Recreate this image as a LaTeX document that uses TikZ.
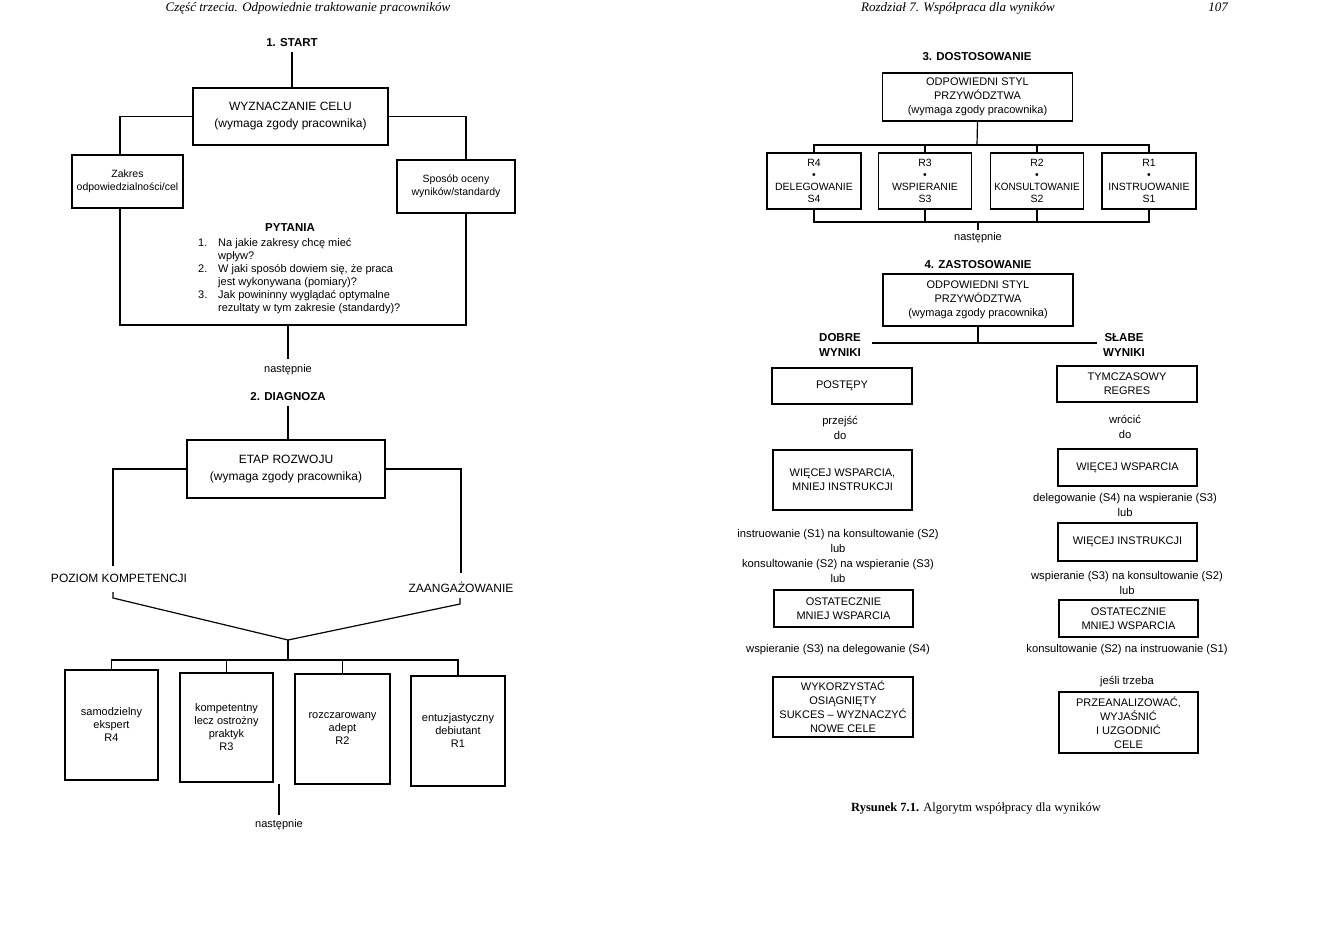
\documentclass[tikz,border=0pt]{standalone}
\usepackage{fontspec}
\usepackage{graphicx}
\setmainfont{Liberation Sans}
\newfontfamily\capserif{Liberation Serif}
\newcommand\fbig{\fontsize{12}{17}\selectfont}
\newcommand\fsm{\fontsize{10.5}{13}\selectfont}
\newcommand\flist{\fontsize{11}{13}\selectfont}
\newcommand\fnast{\fontsize{11}{13}\selectfont}
\newcommand\frl{\fontsize{11}{13}\selectfont}
\newcommand\frb{\fontsize{11}{14}\selectfont}
\newcommand\frs{\fontsize{11.2}{15}\selectfont}
\newcommand\frr{\fontsize{10.5}{11.8}\selectfont}
\newcommand\fttl{\fontsize{11.5}{15}\selectfont\bfseries}
\newcommand\flbl{\fontsize{12}{14}\selectfont}
\newcommand\fhead{\capserif\itshape\fontsize{13}{16}\selectfont}
\newcommand\fcap{\capserif\fontsize{12.5}{15}\selectfont}
\begin{document}
\begin{tikzpicture}[x=1pt,y=-1pt,
  bx/.style={draw, line width=1.2pt, inner sep=0pt, align=center},
  tx/.style={inner sep=0pt, align=center},
  ttl/.style={inner sep=0pt, font=\fttl},
  ln/.style={line width=1.2pt}]
\useasboundingbox (0,0) rectangle (1331,924);
\fill[white] (0,0) rectangle (1331,924);
\node[tx,font=\fhead,anchor=base] (hdl) at (308,11) {Część trzecia. Odpowiednie traktowanie pracowników};
\node[tx,font=\fhead,anchor=base] (hdr) at (958,11) {Rozdział 7. Współpraca dla wyników};
\node[tx,font=\fhead,anchor=base] (pg) at (1218,11) {107};

% ---------------- left page ----------------
\node[ttl] (start) at (292,43) {1. START};
\node[bx,font=\fbig,minimum width=195,minimum height=57] (cel) at (290.5,116.5) {WYZNACZANIE CELU\\(wymaga zgody pracownika)};
\draw[ln,shorten <=5pt] (start.south) -- (start.south |- cel.north);
\node[bx,font=\fsm,minimum width=111,minimum height=53] (zakres) at (127.5,181.5) {Zakres\\odpowiedzialności/cel};
\node[bx,font=\fsm,minimum width=118,minimum height=53] (sposob) at (456,186.5) {Sposób oceny\\wyników/standardy};
\coordinate (pyBL) at (120,325);
\coordinate (pyBR) at (466,325);
\coordinate (pyB) at (288,325);
\draw[ln] (cel.west) -| (pyBL |- zakres.north);
\draw[ln] (cel.east) -| (pyBR |- sposob.north);
\draw[ln] (pyBL |- zakres.south) -- (pyBL) -- (pyBR) -- (pyBR |- sposob.south);
\node[ttl] (pyt) at (290,228) {PYTANIA};
\node[tx,font=\flist,anchor=north west] (lista) at (198,237) {\begin{tabular}{@{}p{20pt}@{}l@{}}1. & Na jakie zakresy chcę mieć\\ & wpływ?\\2. & W jaki sposób dowiem się, że praca\\ & jest wykonywana (pomiary)?\\3. & Jak powininny wyglądać optymalne\\ & rezultaty w tym zakresie (standardy)?\end{tabular}};
\node[tx,font=\fnast] (nast1) at (288,370) {następnie};
\draw[ln,shorten >=6pt] (pyB) -- (nast1.north);
\node[ttl] (diag) at (288,397) {2. DIAGNOZA};
\node[bx,font=\fbig,minimum width=198,minimum height=58] (etap) at (286,469) {ETAP ROZWOJU\\(wymaga zgody pracownika)};
\draw[ln,shorten <=5pt] (diag.south) -- (diag.south |- etap.north);
\node[tx,font=\flbl] (poziom) at (119,578) {POZIOM KOMPETENCJI};
\node[tx,font=\flbl] (zaang) at (461,587) {ZAANGAŻOWANIE};
\coordinate (pkA) at (113,566);
\coordinate (pkB) at (113,592);
\coordinate (pkC) at (113,598);
\coordinate (zaA) at (461,573);
\coordinate (zaB) at (460,598);
\coordinate (zaC) at (460,604);
\coordinate (apex) at (288,640);
\coordinate (bus) at (288,660);
\draw[ln] (etap.west) -| (pkA);
\draw[ln] (etap.east) -| (zaA);
\draw[ln] (pkB) -- (pkC) -- (apex) -- (zaC) -- (zaB);
\draw[ln] (apex) -- (bus);
\node[bx,font=\frl,minimum width=93,minimum height=110] (r4) at (111.5,725) {samodzielny\\ekspert\\R4};
\node[bx,font=\frl,minimum width=93,minimum height=109] (r3) at (226.5,727.5) {kompetentny\\lecz ostrożny\\praktyk\\R3};
\node[bx,font=\frl,minimum width=95,minimum height=110] (r2) at (342.5,729) {rozczarowany\\adept\\R2};
\node[bx,font=\frl,minimum width=94,minimum height=110] (r1) at (458,731) {entuzjastyczny\\debiutant\\R1};
\draw[ln] (r4.north) |- (bus) -| (r1.north);
\draw[ln] (r3.north) -- (r3.north |- bus);
\draw[ln] (r2.north) -- (r2.north |- bus);
\coordinate (nx) at (279,784);
\node[tx,font=\fnast] (nast2) at (279,825) {następnie};
\draw[ln,shorten >=5pt] (nx) -- (nast2.north);

% ---------------- right page ----------------
\node[ttl] (t3) at (977,57) {3. DOSTOSOWANIE};
\node[bx,font=\frb,minimum width=190,minimum height=48] (sty1) at (977.5,97) {ODPOWIEDNI STYL\\PRZYWÓDZTWA\\(wymaga zgody pracownika)};
\coordinate (b3top) at (977,145);
\coordinate (b3bot) at (978,222);
\node[bx,font=\frr,minimum width=94,minimum height=56] (s4) at (814,181) {R4\\•\\DELEGOWANIE\\S4};
\node[bx,font=\frr,minimum width=93,minimum height=56] (s3) at (925,181) {R3\\•\\WSPIERANIE\\S3};
\node[bx,font=\frr,minimum width=93,minimum height=56] (s2) at (1037,181) {R2\\•\\\scalebox{0.94}[1]{KONSULTOWANIE}\\S2};
\node[bx,font=\frr,minimum width=94,minimum height=56] (s1) at (1149,181) {R1\\•\\INSTRUOWANIE\\S1};
\draw[ln] (sty1.south) -- (b3top);
\draw[ln] (s4.north) |- (b3top) -| (s1.north);
\draw[ln] (s3.north) -- (s3.north |- b3top);
\draw[ln] (s2.north) -- (s2.north |- b3top);
\draw[ln] (s4.south) |- (b3bot) -| (s1.south);
\draw[ln] (s3.south) -- (s3.south |- b3bot);
\draw[ln] (s2.south) -- (s2.south |- b3bot);
\node[tx,font=\fnast] (nast3) at (978,238) {następnie};
\draw[ln,shorten >=3pt] (b3bot) -- (nast3.north);

\node[ttl] (t4) at (978,265) {4. ZASTOSOWANIE};
\node[bx,font=\frb,minimum width=190,minimum height=52] (sty2) at (978,300) {ODPOWIEDNI STYL\\PRZYWÓDZTWA\\(wymaga zgody pracownika)};
\coordinate (hz) at (978,343);
\coordinate (hzL) at (872,343);
\coordinate (hzR) at (1097,343);
\draw[ln] (sty2.south) -- (hz);
\draw[ln] (hzL) -- (hzR);
\node[ttl,align=center] (dobre) at (840,345) {DOBRE\\WYNIKI};
\node[ttl,align=center] (slabe) at (1124,345) {SŁABE\\WYNIKI};

\node[bx,font=\frb,minimum width=140,minimum height=36] (post) at (842,386) {POSTĘPY};
\node[bx,font=\frb,minimum width=140,minimum height=36] (tymcz) at (1127,384) {TYMCZASOWY\\REGRES};
\node[tx,font=\frs] (przejsc) at (840,428) {przejść\\do};
\node[tx,font=\frs] (wrocic) at (1125,427) {wrócić\\do};
\node[bx,font=\frb,minimum width=139,minimum height=60] (wwmi) at (842.5,480) {WIĘCEJ WSPARCIA,\\MNIEJ INSTRUKCJI};
\node[bx,font=\frb,minimum width=139,minimum height=37] (ww) at (1127.5,467.5) {WIĘCEJ WSPARCIA};
\node[tx,font=\frs] (deleg) at (1125,505) {delegowanie (S4) na wspieranie (S3)\\lub};
\node[bx,font=\frb,minimum width=139,minimum height=38] (wi) at (1127.5,542) {WIĘCEJ INSTRUKCJI};
\node[tx,font=\frs] (wspk) at (1127,583) {wspieranie (S3) na konsultowanie (S2)\\lub};
\node[bx,font=\frb,minimum width=139,minimum height=37] (ostR) at (1128.5,618.5) {OSTATECZNIE\\MNIEJ WSPARCIA};
\node[tx,font=\frs] (konsi) at (1127,650) {konsultowanie (S2) na instruowanie (S1)};
\node[tx,font=\frs] (jesli) at (1127,682) {jeśli trzeba};
\node[bx,font=\frb,minimum width=139,minimum height=61] (przean) at (1128.5,722.5) {PRZEANALIZOWAĆ,\\WYJAŚNIĆ\\I UZGODNIĆ\\CELE};
\node[tx,font=\frs] (instr) at (838,556) {instruowanie (S1) na konsultowanie (S2)\\lub\\konsultowanie (S2) na wspieranie (S3)\\lub};
\node[bx,font=\frb,minimum width=139,minimum height=37] (ostL) at (843.5,608.5) {OSTATECZNIE\\MNIEJ WSPARCIA};
\node[tx,font=\frs] (wspd) at (838,650) {wspieranie (S3) na delegowanie (S4)};
\node[bx,font=\frb,minimum width=140,minimum height=60] (wyk) at (843,707) {WYKORZYSTAĆ\\OSIĄGNIĘTY\\SUKCES -- WYZNACZYĆ\\NOWE CELE};

\node[tx,font=\fcap] (caption) at (976,808) {\textbf{Rysunek 7.1.} Algorytm współpracy dla wyników};
\end{tikzpicture}
\end{document}
